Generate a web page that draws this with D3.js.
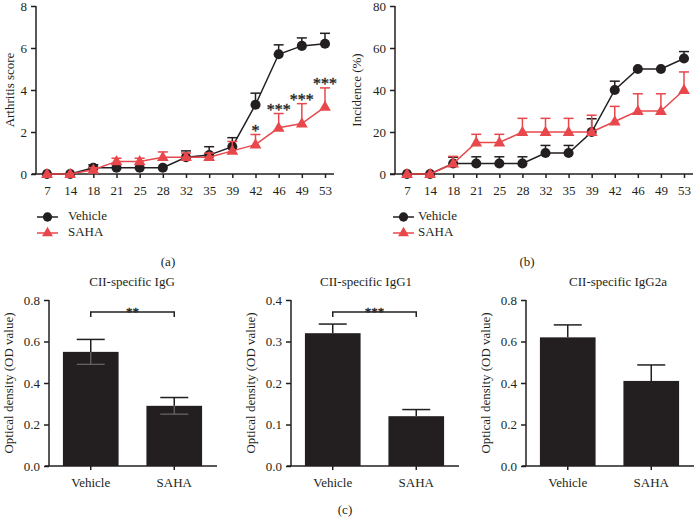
<!DOCTYPE html>
<html>
<head>
<meta charset="utf-8">
<script src="https://cdn.jsdelivr.net/npm/d3@7/dist/d3.min.js"></script>
<style>
  html, body { margin: 0; padding: 0; background: #fff; }
  svg { display: block; }
  svg text { font-family: "Liberation Serif", "Times New Roman", serif !important; fill: #231f20; }
  svg text.star { fill: #231f20; stroke: #231f20; stroke-width: 0.35px; }
</style>
</head>
<body>
<svg id="chart" width="695" height="528"></svg>
<script>
// ---------- Data ----------
const days = ["7", "14", "18", "21", "25", "28", "32", "35", "39", "42", "46", "49", "53"];
const seriesNames = ["Vehicle", "SAHA"];

// (a) Arthritis score: mean and SEM (upper error)
const scoreVehicle    = [0, 0, 0.3, 0.3, 0.3, 0.3, 0.8, 0.9, 1.3, 3.3, 5.7, 6.1, 6.2];
const scoreVehicleErr = [0, 0, 0.14, 0, 0, 0, 0.3, 0.4, 0.43, 0.55, 0.45, 0.38, 0.5];
const scoreSAHA       = [0, 0, 0.2, 0.6, 0.6, 0.8, 0.8, 0.8, 1.1, 1.4, 2.2, 2.4, 3.2];
const scoreSAHAErr    = [0, 0, 0.1, 0.15, 0.15, 0.25, 0.2, 0.2, 0.45, 0.48, 0.68, 0.95, 0.9];
const scoreStars      = [{day: "42", label: "*"}, {day: "46", label: "***"}, {day: "49", label: "***"}, {day: "53", label: "***"}];
const scoreTicks      = [0, 2, 4, 6, 8];

// (b) Incidence (%)
const incVehicle    = [0, 0, 5, 5, 5, 5, 10, 10, 20, 40, 50, 50, 55];
const incVehicleErr = [0, 0, 3, 3.2, 3.2, 3.2, 3.6, 3.6, 6.3, 4.2, 0, 0, 3.3];
const incSAHA       = [0, 0, 5, 15, 15, 20, 20, 20, 20, 25, 30, 30, 40];
const incSAHAErr    = [0, 0, 3.4, 3.9, 3.9, 6.5, 6.5, 6.5, 8, 7.2, 8.2, 8.2, 8.6];
const incTicks      = [0, 20, 40, 60, 80];

// (c) CII-specific antibodies (OD value): mean and SEM
const groups   = ["Vehicle", "SAHA"];
const iggMean  = [0.55, 0.29];
const iggErr   = [0.06, 0.04];
const igg1Mean = [0.32, 0.12];
const igg1Err  = [0.022, 0.016];
const igg2aMean = [0.62, 0.41];
const igg2aErr  = [0.06, 0.077];
const iggTicks  = [0, 0.2, 0.4, 0.6, 0.8];
const igg1Ticks = [0, 0.1, 0.2, 0.3, 0.4];
const barTitles = ["CII-specific IgG", "CII-specific IgG1", "CII-specific IgG2a"];
const barSig    = ["**", "***", null];

// ---------- Styles ----------
const INK = "#231f20";
const RED = "#e8474b";
const svg = d3.select("#chart");

function styleAxis(g) {
  g.attr("font-family", null);
  g.selectAll("path.domain").remove();
  g.selectAll("line").attr("stroke", INK).attr("stroke-width", 1.5);
  g.selectAll("text").attr("font-size", 13).attr("fill", INK);
}

function starText(parent, x, y, label, size) {
  return parent.append("text").attr("class", "star")
    .attr("x", x).attr("y", y)
    .attr("text-anchor", "middle").attr("font-size", size).text(label);
}

// ---------- Line panels ----------
function linePanel(cfg) {
  const x = d3.scalePoint().domain(days).range(cfg.xRange);
  const y = d3.scaleLinear().domain(cfg.yDomain).range([174, 6]);
  const g = svg.append("g");

  const ya = g.append("g").attr("transform", `translate(${cfg.yAxisX},0)`)
    .call(d3.axisLeft(y).tickValues(cfg.ticks).tickSize(5).tickSizeOuter(0).tickPadding(4).tickFormat(d3.format("d")));
  styleAxis(ya);
  g.append("line").attr("x1", cfg.yAxisX).attr("x2", cfg.yAxisX).attr("y1", y(cfg.yDomain[1])).attr("y2", y(0))
    .attr("stroke", INK).attr("stroke-width", 1.5);

  const xa = g.append("g").attr("transform", `translate(0,${y(0)})`)
    .call(d3.axisBottom(x).tickSize(4).tickSizeOuter(0).tickPadding(8));
  styleAxis(xa);
  g.append("line").attr("x1", cfg.xLine[0]).attr("x2", cfg.xLine[1]).attr("y1", y(0)).attr("y2", y(0))
    .attr("stroke", INK).attr("stroke-width", 1.5);

  g.append("text").attr("transform", `translate(${cfg.titleX},${90}) rotate(-90)`)
    .attr("text-anchor", "middle").attr("dominant-baseline", "middle").attr("font-size", 13).text(cfg.title);

  const series = [
    {name: "Vehicle", mean: cfg.veh, err: cfg.vehErr, color: INK, sym: d3.symbolCircle, size: 80},
    {name: "SAHA", mean: cfg.saha, err: cfg.sahaErr, color: RED, sym: d3.symbolTriangle, size: 60}
  ];
  series.forEach(s => {
    const pts = days.map((d, i) => ({d, v: s.mean[i], e: s.err[i]}));
    const eb = g.append("g").attr("stroke", s.color).attr("stroke-width", 1.5);
    pts.filter(p => p.e > 0).forEach(p => {
      eb.append("line").attr("x1", x(p.d)).attr("x2", x(p.d)).attr("y1", y(p.v)).attr("y2", y(p.v + p.e));
      eb.append("line").attr("x1", x(p.d) - 5).attr("x2", x(p.d) + 5).attr("y1", y(p.v + p.e)).attr("y2", y(p.v + p.e));
    });
    g.append("path").datum(pts)
      .attr("d", d3.line().x(p => x(p.d)).y(p => y(p.v)))
      .attr("fill", "none").attr("stroke", s.color).attr("stroke-width", 1.5);
    g.selectAll(null).data(pts).enter().append("path")
      .attr("d", d3.symbol().type(s.sym).size(s.size))
      .attr("transform", p => `translate(${x(p.d)},${y(p.v) + (s.sym === d3.symbolTriangle ? 0.5 : 0)})`)
      .attr("fill", s.color);
  });

  if (cfg.stars) {
    cfg.stars.forEach(st => {
      const i = days.indexOf(st.day);
      starText(g, x(st.day), y(cfg.saha[i] + cfg.sahaErr[i]) + 1, st.label, 16);
    });
  }

  series.forEach((s, k) => {
    const ly = 217 + k * 16;
    g.append("line").attr("x1", cfg.legX).attr("x2", cfg.legX + 21).attr("y1", ly).attr("y2", ly)
      .attr("stroke", s.color).attr("stroke-width", 1.5);
    g.append("path").attr("d", d3.symbol().type(s.sym).size(s.size * 0.85))
      .attr("transform", `translate(${cfg.legX + 10.5},${ly})`).attr("fill", s.color);
    g.append("text").attr("x", cfg.legTextX).attr("y", ly).attr("dominant-baseline", "middle")
      .attr("font-size", 13).text(s.name);
  });

  g.append("text").attr("x", cfg.labelX).attr("y", 266).attr("text-anchor", "middle")
    .attr("font-size", 13).text(cfg.label);
}

linePanel({
  xRange: [47, 325], yDomain: [0, 8], ticks: scoreTicks, yAxisX: 36, xLine: [32, 334],
  title: "Arthritis score", titleX: 11,
  veh: scoreVehicle, vehErr: scoreVehicleErr, saha: scoreSAHA, sahaErr: scoreSAHAErr,
  stars: scoreStars, legX: 37, legTextX: 68, label: "(a)", labelX: 168
});
linePanel({
  xRange: [407, 684], yDomain: [0, 80], ticks: incTicks, yAxisX: 395, xLine: [390, 693],
  title: "Incidence (%)", titleX: 358,
  veh: incVehicle, vehErr: incVehicleErr, saha: incSAHA, sahaErr: incSAHAErr,
  stars: null, legX: 393, legTextX: 418, label: "(b)", labelX: 527
});

// ---------- Bar panels ----------
function barPanel(cfg) {
  const x = d3.scaleBand().domain(groups).range([cfg.axisX, cfg.axisX + 167]).paddingInner(1 / 3).paddingOuter(1 / 6);
  const y = d3.scaleLinear().domain([0, cfg.ticks[cfg.ticks.length - 1]]).range([466, 300]);
  const g = svg.append("g");

  g.append("text").attr("x", cfg.titleCx).attr("y", 286).attr("text-anchor", "middle")
    .attr("font-size", 13).text(cfg.title);

  const ya = g.append("g").attr("transform", `translate(${cfg.axisX},0)`)
    .call(d3.axisLeft(y).tickValues(cfg.ticks).tickSize(5).tickSizeOuter(0).tickPadding(4).tickFormat(d3.format(".1f")));
  styleAxis(ya);
  g.append("line").attr("x1", cfg.axisX).attr("x2", cfg.axisX).attr("y1", 300).attr("y2", 466)
    .attr("stroke", INK).attr("stroke-width", 1.5);

  g.append("text").attr("transform", `translate(${cfg.axisX - 39},383) rotate(-90)`)
    .attr("text-anchor", "middle").attr("dominant-baseline", "middle").attr("font-size", 13)
    .text("Optical density (OD value)");

  const data = groups.map((gname, i) => ({g: gname, v: cfg.mean[i], e: cfg.err[i]}));
  g.selectAll(null).data(data).enter().append("rect")
    .attr("x", d => x(d.g)).attr("width", x.bandwidth())
    .attr("y", d => y(d.v)).attr("height", d => y(0) - y(d.v))
    .attr("fill", INK);
  if (cfg.lowerErr) {
    data.forEach(d => {
      const cx = x(d.g) + x.bandwidth() / 2;
      g.append("line").attr("x1", cx).attr("x2", cx).attr("y1", y(d.v)).attr("y2", y(d.v - d.e))
        .attr("stroke", "#6b6869").attr("stroke-width", 1.2);
      g.append("line").attr("x1", cx - 14).attr("x2", cx + 14).attr("y1", y(d.v - d.e)).attr("y2", y(d.v - d.e))
        .attr("stroke", "#6b6869").attr("stroke-width", 1.2);
    });
  }
  data.forEach(d => {
    const cx = x(d.g) + x.bandwidth() / 2;
    g.append("line").attr("x1", cx).attr("x2", cx).attr("y1", y(d.v)).attr("y2", y(d.v + d.e))
      .attr("stroke", INK).attr("stroke-width", 1.5);
    g.append("line").attr("x1", cx - 14).attr("x2", cx + 14).attr("y1", y(d.v + d.e)).attr("y2", y(d.v + d.e))
      .attr("stroke", INK).attr("stroke-width", 1.5);
  });

  const xa = g.append("g").attr("transform", `translate(0,466)`)
    .call(d3.axisBottom(x).tickSize(4).tickSizeOuter(0).tickPadding(8));
  styleAxis(xa);
  g.append("line").attr("x1", cfg.axisX - 4).attr("x2", cfg.axisX + 168).attr("y1", 466).attr("y2", 466)
    .attr("stroke", INK).attr("stroke-width", 1.5);

  if (cfg.sig) {
    const c1 = x(groups[0]) + x.bandwidth() / 2, c2 = x(groups[1]) + x.bandwidth() / 2;
    const by = 312;
    g.append("path").attr("d", `M${c1},${by + 5}V${by}H${c2}V${by + 5}`)
      .attr("fill", "none").attr("stroke", INK).attr("stroke-width", 1.5);
    starText(g, (c1 + c2) / 2, by + 4, cfg.sig, 13);
  }
}

barPanel({axisX: 49, ticks: iggTicks, mean: iggMean, err: iggErr, title: barTitles[0], titleCx: 132, sig: barSig[0], lowerErr: true});
barPanel({axisX: 291, ticks: igg1Ticks, mean: igg1Mean, err: igg1Err, title: barTitles[1], titleCx: 366, sig: barSig[1], lowerErr: false});
barPanel({axisX: 526, ticks: iggTicks, mean: igg2aMean, err: igg2aErr, title: barTitles[2], titleCx: 618, sig: barSig[2], lowerErr: false});

svg.append("text").attr("x", 345).attr("y", 514).attr("text-anchor", "middle").attr("font-size", 13).text("(c)");
</script>
</body>
</html>
